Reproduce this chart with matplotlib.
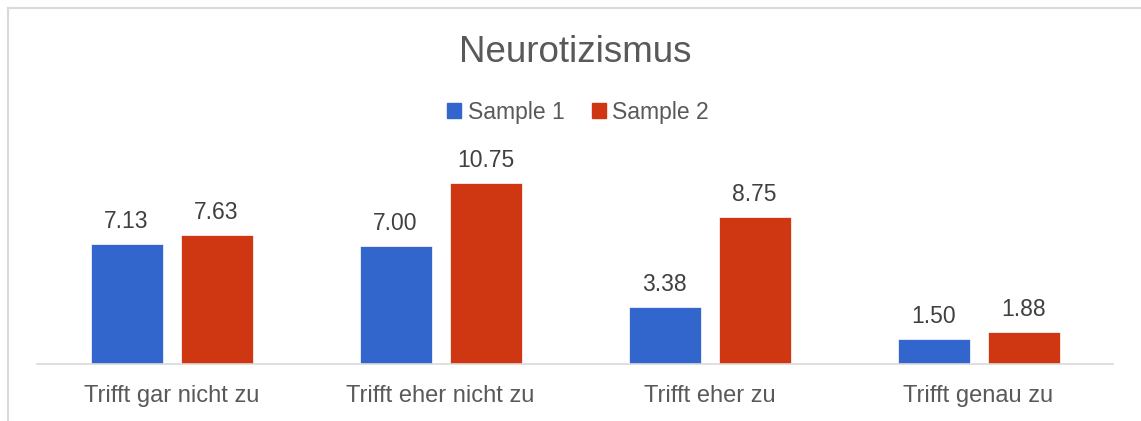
import numpy as np
import matplotlib.pyplot as plt
from matplotlib.patches import Patch
from matplotlib.lines import Line2D

plt.rcParams['font.family'] = ['Liberation Sans', 'DejaVu Sans']

categories = ['Trifft gar nicht zu', 'Trifft eher nicht zu', 'Trifft eher zu', 'Trifft genau zu']
sample1 = [7.13, 7.00, 3.38, 1.50]
sample2 = [7.63, 10.75, 8.75, 1.88]
series_names = ['Sample 1', 'Sample 2']

blue = '#3366CC'
red = '#CF3612'
grey_txt = '#595959'
label_txt = '#404040'
line_col = '#D9D9D9'

W, H = 1141, 421
fig = plt.figure(figsize=(W / 100, H / 100), dpi=100)
ax = fig.add_axes([37 / W, (H - 364) / H, 1076 / W, 224 / H])

x = np.arange(len(categories))
bw = 72 / 269
off = 45 / 269
b1 = ax.bar(x - off, sample1, bw, color=blue, edgecolor='white', linewidth=0.5)
b2 = ax.bar(x + off, sample2, bw, color=red, edgecolor='white', linewidth=0.5)

for bars in (b1, b2):
    ax.bar_label(bars, labels=[f'{v:.2f}' for v in bars.datavalues],
                 padding=8, fontsize=16.5, color=label_txt)

ax.set_xlim(-0.5, 3.5)
ax.set_ylim(0, 13.3)
ax.set_xticks(x)
ax.set_xticklabels(categories, fontsize=17, color=grey_txt)
ax.tick_params(axis='x', length=0, pad=15)
ax.set_yticks([])
for s in ['top', 'right', 'left']:
    ax.spines[s].set_visible(False)
ax.spines['bottom'].set_color(line_col)
ax.spines['bottom'].set_linewidth(1.2)

fig.text(575 / W, 1 - 52 / H, 'Neurotizismus', fontsize=26.5, color=grey_txt,
         ha='center', va='center')

handles = [Patch(color=blue), Patch(color=red)]
fig.legend(handles, series_names, loc='center', bbox_to_anchor=(578 / W, 1 - 112 / H),
           ncol=2, frameon=False, fontsize=16.5, labelcolor=grey_txt,
           handlelength=0.6, handleheight=0.6, handletextpad=0.3, columnspacing=1.2)

# chart area border (top and left visible)
fig.add_artist(Line2D([8 / W, 1], [1 - 8 / H, 1 - 8 / H], color=line_col, lw=1.5))
fig.add_artist(Line2D([8 / W, 8 / W], [0, 1 - 8 / H], color=line_col, lw=1.5))

fig.savefig('out.png', dpi=100)
